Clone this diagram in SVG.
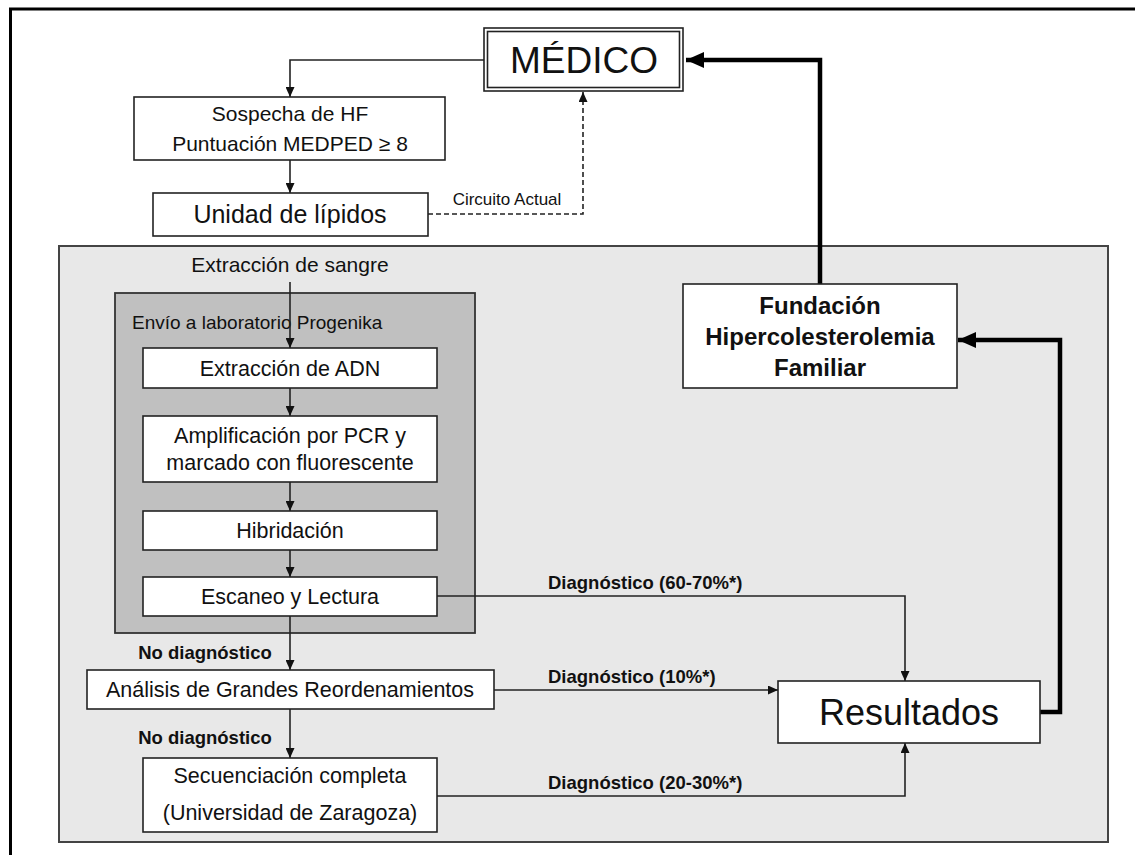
<svg xmlns="http://www.w3.org/2000/svg" width="1135" height="855" viewBox="0 0 1135 855">
<defs>
<style>
text{font-family:"Liberation Sans",Arial,sans-serif;fill:#111;text-anchor:middle}
.box{fill:#fff;stroke:#222;stroke-width:1.6}
.b{font-weight:bold}
.ln{fill:none;stroke:#222;stroke-width:1.6}
.thick{fill:none;stroke:#000;stroke-width:4.5}
.dash{fill:none;stroke:#222;stroke-width:1.6;stroke-dasharray:5 3}
</style>
<marker id="a" markerUnits="userSpaceOnUse" markerWidth="10" markerHeight="9" refX="10" refY="4.5" orient="auto"><path d="M0,0 L10,4.5 L0,9 z" fill="#111"/></marker>
<marker id="A" markerUnits="userSpaceOnUse" markerWidth="18" markerHeight="16" refX="18" refY="8" orient="auto"><path d="M0,0 L18,8 L0,16 z" fill="#000"/></marker>
</defs>
<rect width="1135" height="855" fill="#fff"/>
<path d="M10.5,855 V9 H1135" fill="none" stroke="#000" stroke-width="3"/>

<g id="panel">
<rect x="59" y="246" width="1049" height="596" fill="#e8e8e8" stroke="#444" stroke-width="2"/>
<text x="290" y="272" font-size="21">Extracción de sangre</text>
</g>
<g id="lab">
<rect x="115" y="293" width="360" height="340" fill="#c0c0c0" stroke="#333" stroke-width="1.8"/>
<text x="132" y="329" font-size="19" style="text-anchor:start">Envío a laboratorio Progenika</text>
</g>

<g id="connectors">
<path class="ln" d="M484,60 H290 V97" marker-end="url(#a)"/>
<path class="ln" d="M290,160 V193" marker-end="url(#a)"/>
<path class="dash" d="M428,214 H583 V92" marker-end="url(#a)"/>
<text x="507" y="205" font-size="17">Circuito Actual</text>
<path class="ln" d="M290,282 V348" marker-end="url(#a)"/>
<path class="ln" d="M290,388 V416" marker-end="url(#a)"/>
<path class="ln" d="M290,482 V511" marker-end="url(#a)"/>
<path class="ln" d="M290,550 V577" marker-end="url(#a)"/>
<path class="ln" d="M290,616 V670" marker-end="url(#a)"/>
<text class="b" x="205" y="659" font-size="18.5">No diagnóstico</text>
<path class="ln" d="M290,709 V758" marker-end="url(#a)"/>
<text class="b" x="205" y="744" font-size="18.5">No diagnóstico</text>
<path class="ln" d="M437,596 H905 V681" marker-end="url(#a)"/>
<text class="b" x="548" y="589" font-size="18.5" style="text-anchor:start">Diagnóstico (60-70%*)</text>
<path class="ln" d="M494,690 H778" marker-end="url(#a)"/>
<text class="b" x="548" y="683" font-size="18.5" style="text-anchor:start">Diagnóstico (10%*)</text>
<path class="ln" d="M437,796 H905 V743" marker-end="url(#a)"/>
<text class="b" x="548" y="789" font-size="18.5" style="text-anchor:start">Diagnóstico (20-30%*)</text>
<path class="thick" d="M1040,712 H1060 V340 H958" marker-end="url(#A)"/>
<path class="thick" d="M820,284 V60 H686" marker-end="url(#A)"/>
</g>

<g id="medico">
<rect x="484" y="28" width="199" height="63" fill="#fff" stroke="#222" stroke-width="1.6"/>
<rect x="487.5" y="31.5" width="192" height="56" fill="none" stroke="#222" stroke-width="1.6"/>
<text x="584" y="73" font-size="37">MÉDICO</text>
</g>
<g id="sospecha">
<rect class="box" x="134" y="97" width="311" height="63"/>
<text x="290" y="121" font-size="21">Sospecha de HF</text>
<text x="290" y="151" font-size="21">Puntuación MEDPED ≥ 8</text>
</g>
<g id="unidad">
<rect class="box" x="153" y="193" width="275" height="43"/>
<text x="290" y="223" font-size="25">Unidad de lípidos</text>
</g>
<g id="adn">
<rect class="box" x="143" y="348" width="294" height="40"/>
<text x="290" y="376" font-size="21.5">Extracción de ADN</text>
</g>
<g id="ampl">
<rect class="box" x="143" y="416" width="294" height="66"/>
<text x="290" y="443" font-size="21.5">Amplificación por PCR y</text>
<text x="290" y="470" font-size="21.5">marcado con fluorescente</text>
</g>
<g id="hibr">
<rect class="box" x="143" y="511" width="294" height="39"/>
<text x="290" y="538" font-size="21.5">Hibridación</text>
</g>
<g id="escaneo">
<rect class="box" x="143" y="577" width="294" height="39"/>
<text x="290" y="604" font-size="21.5">Escaneo y Lectura</text>
</g>
<g id="analisis">
<rect class="box" x="87" y="670" width="407" height="39"/>
<text x="290" y="697" font-size="21.5">Análisis de Grandes Reordenamientos</text>
</g>
<g id="secuenciacion">
<rect class="box" x="143" y="758" width="294" height="74"/>
<text x="290" y="783" font-size="21.5">Secuenciación completa</text>
<text x="290" y="820" font-size="21.5">(Universidad de Zaragoza)</text>
</g>
<g id="resultados">
<rect class="box" x="778" y="681" width="262" height="62"/>
<text x="909" y="725" font-size="36">Resultados</text>
</g>
<g id="fundacion">
<rect class="box" x="683" y="284" width="274" height="104"/>
<text class="b" x="820" y="314" font-size="24">Fundación</text>
<text class="b" x="820" y="345" font-size="24">Hipercolesterolemia</text>
<text class="b" x="820" y="376" font-size="24">Familiar</text>
</g>
</svg>
